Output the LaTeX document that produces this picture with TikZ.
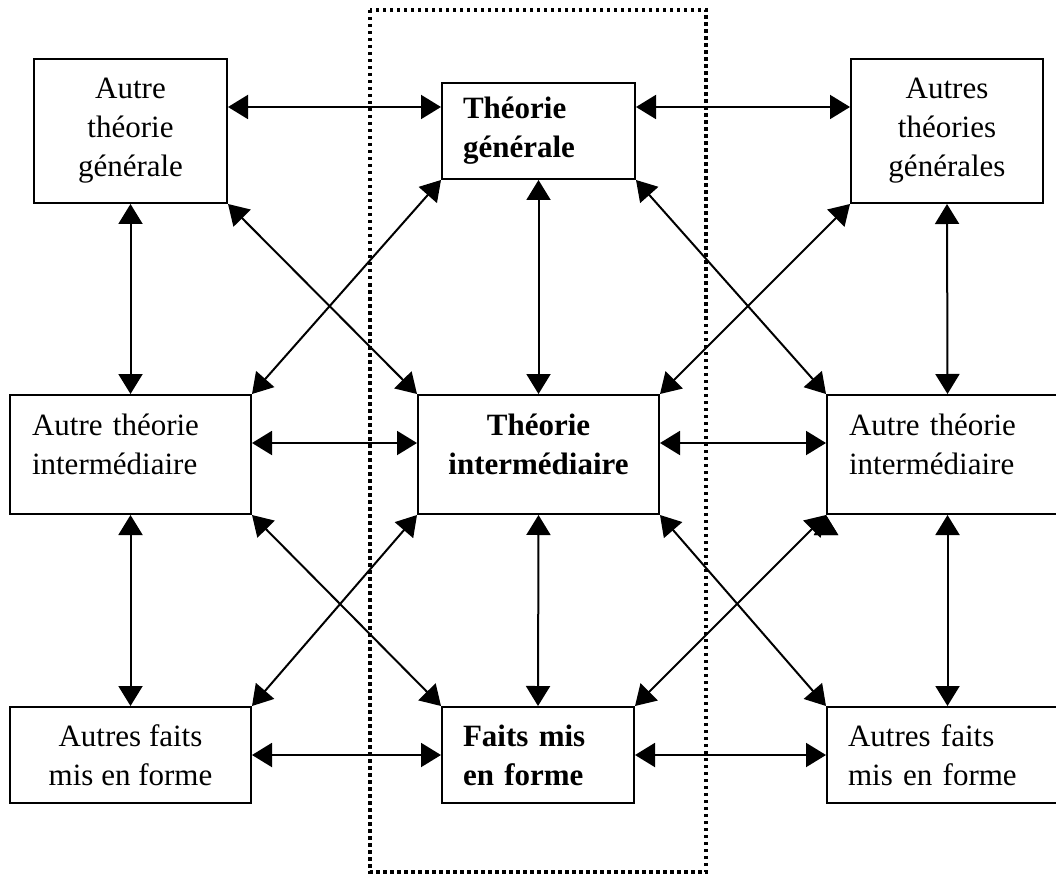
\documentclass[tikz,border=0pt]{standalone}
\usepackage{fontspec}
\setmainfont{Liberation Serif}
\usetikzlibrary{arrows.meta}

\newcommand{\lowpad}{\rule[-20pt]{0pt}{20pt}}

\begin{document}
\begin{tikzpicture}[x=1pt,y=-1pt,>={Triangle[length=20pt,width=24pt]}]
    \tikzset{box/.style= {draw, rectangle, line width=2pt, inner ysep=0pt, font=\fontsize{31}{39}\selectfont},
             cbox/.style= {box, align=center},
             lbox/.style= {box, align=left, inner xsep=21pt, text width=#1},
             main/.style= {font=\fontsize{31}{39}\selectfont\bfseries},
             link/.style= {<->, line width=2pt},}
    \useasboundingbox (0,0) rectangle (1056,874);
    \clip (0,0) rectangle (1056,874);

    % the middle column
    \draw[line width=3.2pt, dash pattern=on 3.5pt off 3.5pt] (370,10) rectangle (706,872);

    \node [cbox, minimum width=193pt, minimum height=144pt] (altgen) at (130.5,131) {Autre\\théorie\\générale};
    \node [lbox=151pt, main, minimum height=96pt] (gen) at (538.5,131) {Théorie\\générale};
    \node [cbox, minimum width=192pt, minimum height=144pt] (altsgen) at (947,131) {Autres\\théories\\générales};

    \node [lbox=197pt, inner xsep=22pt, minimum height=119pt] (altintl) at (130.5,454.5) {Autre théorie\\intermédiaire\lowpad};
    \node [cbox, main, minimum width=241pt, minimum height=119pt] (inter) at (538.5,454.5) {Théorie\\intermédiaire\lowpad};
    \node [lbox=197pt, inner xsep=22pt, minimum height=119pt] (altintr) at (947.5,454.5) {Autre théorie\\intermédiaire\lowpad};

    \node [cbox, minimum width=241pt, minimum height=96pt] (faitsl) at (130.5,755) {Autres faits\\mis en forme};
    \node [lbox=150pt, main, minimum height=96pt] (faits) at (538,755) {Faits mis\\en forme};
    \node [lbox=199pt, minimum height=96pt] (faitsr) at (947.5,755) {Autres faits\\mis en forme};

    \path[draw,link]
                ([yshift=24pt]altgen.east) edge ([yshift=24pt]gen.west)
                ([yshift=24pt]gen.east) edge ([yshift=24pt]altsgen.west)
                ([yshift=11.5pt]altintl.east) edge ([yshift=11.5pt]inter.west)
                ([yshift=11.5pt]inter.east) edge ([yshift=11.5pt]altintr.west)
                (faitsl.east) edge (faits.west)
                (faits.east) edge (faitsr.west)
                (altgen.south) edge (altintl.north)
                (gen.south) edge (inter.north)
                (altsgen.south) edge (altintr.north)
                (altintl.south) edge (faitsl.north)
                (inter.south) edge (faits.north)
                (altintr.south) edge (faitsr.north)
                (altgen.south east) edge (inter.north west)
                (gen.south west) edge (altintl.north east)
                (gen.south east) edge (altintr.north west)
                (altsgen.south west) edge (inter.north east)
                (altintl.south east) edge (faits.north west)
                (inter.south west) edge (faitsl.north east)
                (inter.south east) edge (faitsr.north west)
                (altintr.south west) edge (faits.north east)
                ;
\end{tikzpicture}
\end{document}
